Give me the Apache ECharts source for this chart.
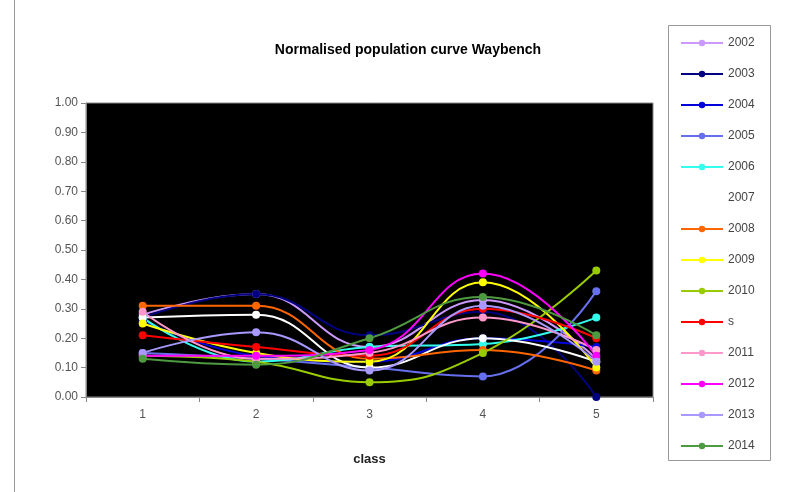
<!DOCTYPE html>
<html><head><meta charset="utf-8">
<script src="https://cdn.jsdelivr.net/npm/echarts@6/dist/echarts.min.js"></script>
<style>html,body{margin:0;padding:0;background:#fff}#c{width:787px;height:492px}</style>
</head><body><div id="c"></div>
<script>
const categories = ['1','2','3','4','5'];
const seriesNames = ['2002','2003','2004','2005','2006','2007','2008','2009','2010','s','2011','2012','2013','2014'];
const seriesColors = ['#CC99FF','#000080','#0000DD','#6670EE','#33FFEE','#FFFFFF','#FF6600','#FFFF00','#99CC00','#FF0000','#FF99CC','#FF00FF','#A898FF','#4E9A40'];
const v2002 = [0.28, 0.35, 0.17, 0.33, 0.13];
const v2003 = [0.27, 0.35, 0.21, 0.29, 0.00];
const v2004 = [0.26, 0.14, 0.12, 0.20, 0.17];
const v2005 = [0.15, 0.13, 0.10, 0.07, 0.36];
const v2006 = [0.27, 0.12, 0.17, 0.18, 0.27];
const v2007 = [0.27, 0.28, 0.10, 0.20, 0.12];
const v2008 = [0.31, 0.31, 0.13, 0.16, 0.09];
const v2009 = [0.25, 0.15, 0.12, 0.39, 0.10];
const v2010 = [0.14, 0.12, 0.05, 0.15, 0.43];
const vS    = [0.21, 0.17, 0.14, 0.30, 0.20];
const v2011 = [0.29, 0.13, 0.15, 0.27, 0.16];
const v2012 = [0.14, 0.14, 0.16, 0.42, 0.14];
const v2013 = [0.15, 0.22, 0.09, 0.31, 0.12];
const v2014 = [0.13, 0.11, 0.20, 0.34, 0.21];
const allValues = [v2002,v2003,v2004,v2005,v2006,v2007,v2008,v2009,v2010,vS,v2011,v2012,v2013,v2014];
const yTicks = {min:0, max:1, interval:0.1};

const chart = echarts.init(document.getElementById('c'), null, {renderer:'canvas'});
const series = seriesNames.map((n,i)=>({
  name:n, type:'line', data:allValues[i], smooth:0.45,
  symbol:'circle', symbolSize:8,
  lineStyle:{color:seriesColors[i], width:2},
  itemStyle:{color:seriesColors[i]},
  emphasis:{disabled:true}
}));
chart.setOption({
  animation:false,
  backgroundColor:'#fff',
  title:{text:'Normalised population curve Waybench', left:403, textAlign:'center', top:38,
    textStyle:{fontFamily:'Liberation Sans, Arial', fontSize:14, fontWeight:'bold', color:'#000'}},
  grid:{left:86, right:134, top:103, bottom:95, show:true, backgroundColor:'#000', borderColor:'#888', borderWidth:1},
  legend:{orient:'vertical', left:675, top:31, itemWidth:42, itemHeight:8, itemGap:17,
    data:seriesNames, textStyle:{fontFamily:'Liberation Sans, Arial', fontSize:12, color:'#444', lineHeight:14},
    itemStyle:{borderWidth:0}},
  xAxis:{type:'category', data:categories, boundaryGap:true,
    name:'class', nameLocation:'middle', nameGap:56,
    nameTextStyle:{fontFamily:'Liberation Sans, Arial', fontSize:13, fontWeight:'bold', color:'#222'},
    axisLine:{lineStyle:{color:'#888'}}, axisTick:{show:true, alignWithLabel:false, length:5, lineStyle:{color:'#888'}},
    axisLabel:{fontFamily:'Liberation Sans, Arial', fontSize:12, color:'#555', margin:12}},
  yAxis:{type:'value', min:yTicks.min, max:yTicks.max, interval:yTicks.interval,
    axisLine:{show:true, lineStyle:{color:'#888'}}, axisTick:{show:true, length:5, lineStyle:{color:'#888'}},
    splitLine:{show:false},
    axisLabel:{fontFamily:'Liberation Sans, Arial', fontSize:12, color:'#555', margin:8, formatter:v=>v.toFixed(2)}},
  graphic:[
    {type:'line', shape:{x1:14.5,y1:0,x2:14.5,y2:492}, style:{stroke:'#999', lineWidth:1}, silent:true},
    {type:'rect', shape:{x:668.5,y:25.5,width:102,height:435}, style:{fill:'none', stroke:'#999', lineWidth:1}, silent:true, z:-1}
  ],
  series:series
});
</script></body></html>
